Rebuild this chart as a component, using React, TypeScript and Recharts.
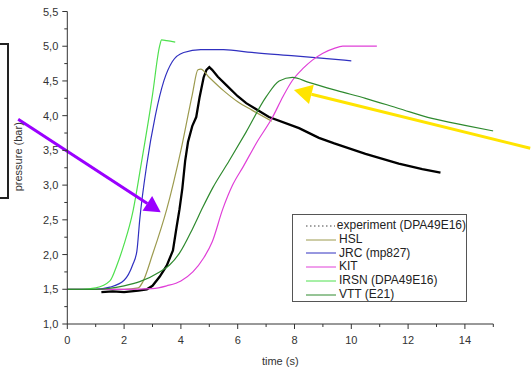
import {
  LineChart,
  Line,
  XAxis,
  YAxis,
  Legend,
  ReferenceLine,
} from 'recharts';

type Pt = { t: number; p: number };

const toPts = (rows: number[][]): Pt[] => rows.map(([t, p]) => ({ t, p }));

// pressure (bar) vs time (s)
const experiment = toPts([
  [1.2, 1.46], [1.6, 1.47], [2.0, 1.46], [2.5, 1.48], [2.8, 1.5], [3.0, 1.55],
  [3.25, 1.68], [3.5, 1.84], [3.72, 2.06], [3.85, 2.4], [3.95, 2.65],
  [4.05, 2.95], [4.15, 3.35], [4.25, 3.62], [4.4, 3.85], [4.54, 3.98],
  [4.66, 4.27], [4.8, 4.55], [4.9, 4.66], [5.0, 4.7], [5.1, 4.66],
  [5.3, 4.56], [5.6, 4.44], [6.0, 4.28], [6.3, 4.18], [7.1, 3.98],
  [8.16, 3.82], [8.86, 3.68], [9.4, 3.6], [10.5, 3.45], [11.67, 3.31],
  [12.5, 3.23], [13.14, 3.18],
]);

const hsl = toPts([
  [0, 1.5], [1, 1.5], [2, 1.5], [2.5, 1.52], [2.65, 1.6], [3.0, 2.0],
  [3.5, 2.65], [4.0, 3.5], [4.4, 4.3], [4.6, 4.66], [4.7, 4.67], [5.0, 4.55],
  [5.5, 4.36], [6.0, 4.2], [6.5, 4.08], [7.2, 3.92],
]);

const jrc = toPts([
  [0, 1.5], [1, 1.5], [1.5, 1.53], [2.0, 1.63], [2.3, 1.85], [2.45, 2.05],
  [2.55, 2.5], [2.8, 3.3], [3.1, 4.0], [3.4, 4.5], [3.7, 4.78], [4.1, 4.91],
  [4.7, 4.95], [5.5, 4.95], [6.5, 4.91], [8, 4.86], [10, 4.79],
]);

const kit = toPts([
  [0, 1.5], [2, 1.5], [3, 1.51], [3.5, 1.55], [4.0, 1.62], [4.42, 1.75],
  [4.8, 1.95], [5.1, 2.18], [5.47, 2.65], [5.82, 3.0], [6.2, 3.27],
  [6.65, 3.6], [7.23, 3.98], [7.6, 4.28], [7.93, 4.51], [8.3, 4.68],
  [8.63, 4.8], [9.0, 4.9], [9.4, 4.97], [9.7, 5.0], [10.9, 5.0],
]);

const irsn = toPts([
  [0, 1.5], [0.5, 1.5], [1, 1.52], [1.5, 1.62], [1.75, 1.85], [2.0, 2.15],
  [2.3, 2.6], [2.6, 3.3], [3.0, 4.3], [3.25, 5.0], [3.32, 5.09], [3.5, 5.08],
  [3.8, 5.06],
]);

const vtt = toPts([
  [0, 1.5], [1, 1.5], [2, 1.55], [2.55, 1.61], [3.25, 1.75], [3.6, 1.85],
  [3.95, 2.02], [4.42, 2.38], [4.77, 2.68], [5.12, 2.96], [5.7, 3.35],
  [6.29, 3.76], [7.0, 4.27], [7.46, 4.5], [7.93, 4.55], [8.5, 4.48],
  [9.5, 4.36], [10.5, 4.25], [11.7, 4.1], [12.84, 3.96], [14, 3.86], [15, 3.78],
]);

const series = [
  { name: 'experiment (DPA49E16)', data: experiment, color: '#000000', width: 2.3, dotted: true },
  { name: 'HSL', data: hsl, color: '#9c9a4e', width: 1.2, dotted: false },
  { name: 'JRC (mp827)', data: jrc, color: '#3030c0', width: 1.2, dotted: false },
  { name: 'KIT', data: kit, color: '#e040d8', width: 1.2, dotted: false },
  { name: 'IRSN (DPA49E16)', data: irsn, color: '#4ee04e', width: 1.2, dotted: false },
  { name: 'VTT (E21)', data: vtt, color: '#2f8a2f', width: 1.2, dotted: false },
];

const xTicks = [0, 1, 2, 3, 4, 5, 6, 7, 8, 9, 10, 11, 12, 13, 14, 15];
const yTicks = [1, 1.25, 1.5, 1.75, 2, 2.25, 2.5, 2.75, 3, 3.25, 3.5, 3.75, 4, 4.25, 4.5, 4.75, 5, 5.25, 5.5];

// annotation arrows: [tail, tip] in data units
const purpleArrow: [number, number][] = [[-1.73, 3.95], [3.29, 2.61]];
const yellowArrow: [number, number][] = [[16.3, 3.53], [7.98, 4.37]];

const font = '"Liberation Sans", Arial, sans-serif';
const axisColor = '#333';

const XTick = (props: any) => {
  const { x, y, payload } = props;
  const major = payload.value % 2 === 0;
  return (
    <g>
      <line x1={x} x2={x} y1={y} y2={y + (major ? 5 : 3)} stroke={axisColor} />
      {major && (
        <text x={x} y={y + 20} textAnchor='middle' fontSize={11} fill={axisColor} fontFamily={font}>
          {payload.value}
        </text>
      )}
    </g>
  );
};

const YTick = (props: any) => {
  const { x, y, payload } = props;
  const major = Math.abs(payload.value * 2 - Math.round(payload.value * 2)) < 1e-6;
  return (
    <g>
      <line x1={x} x2={x - (major ? 5 : 3)} y1={y} y2={y} stroke={axisColor} />
      {major && (
        <text x={x - 9} y={y + 4} textAnchor='end' fontSize={11} fill={axisColor} fontFamily={font}>
          {payload.value.toFixed(1).replace('.', ',')}
        </text>
      )}
    </g>
  );
};

const arrowShape = (color: string, width: number, head: number) => (props: any) => {
  const { x1, y1, x2, y2 } = props;
  const dx = x2 - x1;
  const dy = y2 - y1;
  const len = Math.sqrt(dx * dx + dy * dy);
  const ux = dx / len;
  const uy = dy / len;
  const bx = x2 - ux * head;
  const by = y2 - uy * head;
  const hw = head * 0.55;
  return (
    <g>
      <line x1={x1} y1={y1} x2={bx} y2={by} stroke={color} strokeWidth={width} />
      <polygon
        points={`${x2},${y2} ${bx - uy * hw},${by + ux * hw} ${bx + uy * hw},${by - ux * hw}`}
        fill={color}
      />
    </g>
  );
};

const LegendBox = () => (
  <div
    style={{
      border: '1px solid #555',
      background: '#fff',
      padding: '4px 0 2px 0',
      fontFamily: font,
      fontSize: 12,
      color: '#222',
      boxSizing: 'border-box',
      width: 175,
      height: 88,
    }}
  >
    {series.map((s) => (
      <div key={s.name} style={{ display: 'flex', alignItems: 'center', height: 13.8, lineHeight: '13.8px' }}>
        <svg width={40} height={8} style={{ marginLeft: 4 }}>
          <line
            x1={9}
            x2={39}
            y1={4}
            y2={4}
            stroke={s.dotted ? '#444' : s.color}
            strokeWidth={1}
            strokeDasharray={s.dotted ? '1.5 2.5' : undefined}
          />
        </svg>
        <span style={{ marginLeft: 2, whiteSpace: 'nowrap' }}>{s.name}</span>
      </div>
    ))}
  </div>
);

export default function App() {
  return (
    <div style={{ position: 'absolute', left: 0, top: 0, width: 531, height: 370, background: '#fff', overflow: 'hidden' }}>
      <div
        style={{
          position: 'absolute',
          left: -10,
          top: 43,
          width: 15,
          height: 152,
          border: '2px solid #222',
        }}
      />
      <LineChart
        width={531}
        height={370}
        margin={{ top: 11.5, right: 37.7, bottom: 0, left: 0 }}
      >
        <XAxis
          type='number'
          dataKey='t'
          domain={[0, 15]}
          ticks={xTicks}
          interval={0}
          allowDataOverflow
          height={46}
          tickSize={0}
          tickMargin={0}
          tickLine={false}
          stroke={axisColor}
          tick={<XTick />}
          label={{
            content: (p: any) => {
              const vb = p.viewBox;
              return (
                <text x={vb.x + vb.width / 2} y={vb.y + 41} textAnchor='middle' fontSize={11} fill={axisColor} fontFamily={font}>
                  time (s)
                </text>
              );
            },
          }}
        />
        <XAxis xAxisId='top' orientation='top' type='number' domain={[0, 15]} height={0} tick={false} tickLine={false} stroke={axisColor} />
        <YAxis
          type='number'
          dataKey='p'
          domain={[1, 5.5]}
          ticks={yTicks}
          interval={0}
          allowDataOverflow
          width={67.3}
          tickSize={0}
          tickMargin={0}
          tickLine={false}
          stroke={axisColor}
          tick={<YTick />}
          label={{
            content: (p: any) => {
              const vb = p.viewBox;
              const cx = vb.x + 18;
              const cy = vb.y + vb.height / 2 - 11;
              return (
                <text
                  x={cx}
                  y={cy}
                  transform={`rotate(-90 ${cx} ${cy})`}
                  textAnchor='middle'
                  dominantBaseline='central'
                  fontSize={11}
                  fill={axisColor}
                  fontFamily={font}
                >
                  pressure (bar)
                </text>
              );
            },
          }}
        />
        <YAxis yAxisId='right' orientation='right' type='number' domain={[1, 5.5]} width={0} tick={false} tickLine={false} stroke={axisColor} />

        {series.map((s) => (
          <Line
            key={s.name}
            data={s.data}
            dataKey='p'
            name={s.name}
            type={s.dotted ? 'linear' : 'monotone'}
            stroke={s.color}
            strokeWidth={s.width}
            dot={false}
            activeDot={false}
            isAnimationActive={false}
          />
        ))}

        <ReferenceLine
          segment={purpleArrow.map(([x, y]) => ({ x, y }))}
          ifOverflow='visible'
          shape={arrowShape('#9a00ff', 3, 16)}
        />
        <ReferenceLine
          segment={yellowArrow.map(([x, y]) => ({ x, y }))}
          ifOverflow='visible'
          shape={arrowShape('#ffe400', 3, 18)}
        />

        <Legend
          layout='horizontal'
          verticalAlign='middle'
          align='center'
          content={() => <LegendBox />}
          wrapperStyle={{ left: 292, top: 214, width: 175, height: 88 }}
        />
      </LineChart>
    </div>
  );
}
